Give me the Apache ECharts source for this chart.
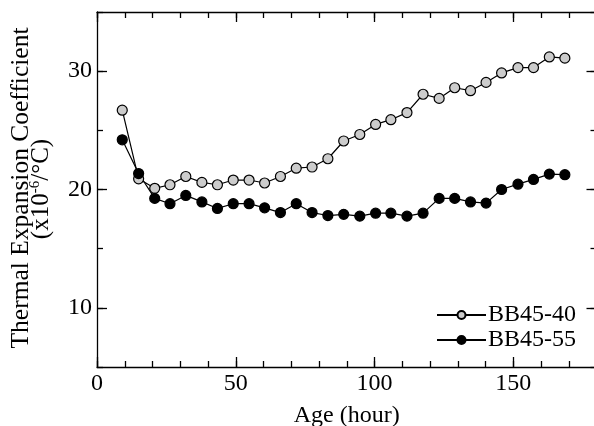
<!DOCTYPE html>
<html>
<head>
<meta charset="utf-8">
<script src="https://cdn.jsdelivr.net/npm/echarts@6/dist/echarts.min.js"></script>
<style>html,body{margin:0;padding:0;background:#fff}#c{width:594px;height:426px}</style>
</head>
<body>
<div id="c"></div>
<script>
var ages = [9.1, 15.0, 20.8, 26.3, 32.0, 37.8, 43.4, 49.1, 54.8, 60.4, 66.1, 71.8, 77.5, 83.2, 88.9, 94.7, 100.4, 105.9, 111.7, 117.5, 123.3, 128.9, 134.6, 140.2, 145.8, 151.7, 157.3, 163.0, 168.6];
var bb45_40 = [26.7, 20.9, 20.1, 20.4, 21.1, 20.6, 20.4, 20.8, 20.8, 20.55, 21.1, 21.8, 21.9, 22.6, 24.1, 24.65, 25.5, 25.9, 26.5, 28.05, 27.7, 28.6, 28.35, 29.05, 29.85, 30.3, 30.3, 31.2, 31.1];
var bb45_55 = [24.2, 21.35, 19.25, 18.8, 19.5, 18.95, 18.4, 18.8, 18.8, 18.45, 18.05, 18.8, 18.05, 17.8, 17.9, 17.75, 18.0, 18.0, 17.75, 18.0, 19.25, 19.25, 18.95, 18.85, 20.0, 20.45, 20.85, 21.3, 21.25];
var xMajor = [0, 50, 100, 150];
var yMajor = [10, 20, 30];
var seriesNames = ['BB45-40', 'BB45-55'];

var FONT = 'Liberation Serif';
function pairs(xs, ys){ return xs.map(function(x,i){ return [x, ys[i]]; }); }

var chart = echarts.init(document.getElementById('c'), null, {renderer:'canvas'});
var lineStyleAxis = {color:'#000', width:1.3};
function xAx(pos, major, labels){
  var a = {type:'value', position:pos, min:0, max:180, gridIndex:0,
    splitLine:{show:false}, axisLine:{show:major, onZero:false, lineStyle:lineStyleAxis}};
  if (major) {
    a.axisTick = {show:true, inside:true, length:10, customValues:xMajor, lineStyle:lineStyleAxis};
    a.axisLabel = labels ? {show:true, customValues:xMajor, color:'#000', fontFamily:FONT, fontSize:24, margin:5} : {show:false};
  } else {
    a.interval = 10;
    a.axisTick = {show:true, inside:true, length:6, lineStyle:lineStyleAxis};
    a.axisLabel = {show:false};
  }
  if (labels) {
    a.name = 'Age (hour)'; a.nameLocation = 'middle'; a.nameGap = 37;
    a.nameTextStyle = {color:'#000', fontFamily:FONT, fontSize:24};
  }
  return a;
}
function yAx(pos, major, labels){
  var a = {type:'value', position:pos, min:5, max:35, gridIndex:0,
    splitLine:{show:false}, axisLine:{show:major && pos === 'left', onZero:false, lineStyle:lineStyleAxis}};
  if (major) {
    a.axisTick = {show:true, inside:true, length:10, customValues:yMajor, lineStyle:lineStyleAxis};
    a.axisLabel = labels ? {show:true, customValues:yMajor, color:'#000', fontFamily:FONT, fontSize:24, margin:5} : {show:false};
  } else {
    a.interval = 5;
    a.axisTick = {show:true, inside:true, length:6, lineStyle:lineStyleAxis};
    a.axisLabel = {show:false};
  }
  return a;
}

chart.setOption({
  animation:false,
  grid:{left:97, top:12, right:-2.5, height:355, containLabel:false, outerBoundsMode:'none'},
  xAxis:[xAx('bottom', true, true), xAx('bottom', false, false), xAx('top', true, false), xAx('top', false, false)],
  yAxis:[yAx('left', true, true), yAx('left', false, false), yAx('right', true, false), yAx('right', false, false)],
  legend:{
    orient:'vertical', left:436, top:303, padding:0, itemWidth:49, itemHeight:10, itemGap:1,
    data:seriesNames,
    textStyle:{color:'#000', fontFamily:FONT, fontSize:24, padding:[0,0,0,-3]}
  },
  graphic:[
    {type:'text', x:21.5, y:188, rotation:Math.PI/2,
      style:{text:'Thermal Expansion Coefficient', fontFamily:FONT, fontSize:25.5, fill:'#000', textAlign:'center', textVerticalAlign:'middle'}},
    {type:'text', x:41, y:189, rotation:Math.PI/2,
      style:{text:'{a|(x10}{s|-6}{a|/°C)}', fill:'#000', textAlign:'center', textVerticalAlign:'middle',
        rich:{a:{fontFamily:FONT, fontSize:25, fill:'#000'}, s:{fontFamily:FONT, fontSize:15, fill:'#000', padding:[0,0,12,0]}}}}
  ],
  series:[
    {name:seriesNames[0], type:'line', xAxisIndex:0, yAxisIndex:0, data:pairs(ages, bb45_40),
      symbol:'circle', symbolSize:10, showAllSymbol:true,
      lineStyle:{color:'#000', width:1.2}, itemStyle:{color:'#cccccc', borderColor:'#000', borderWidth:1.2}},
    {name:seriesNames[1], type:'line', xAxisIndex:0, yAxisIndex:0, data:pairs(ages, bb45_55),
      symbol:'circle', symbolSize:10, showAllSymbol:true,
      lineStyle:{color:'#000', width:1.2}, itemStyle:{color:'#000', borderColor:'#000', borderWidth:1.2}}
  ]
});
</script>
</body>
</html>
